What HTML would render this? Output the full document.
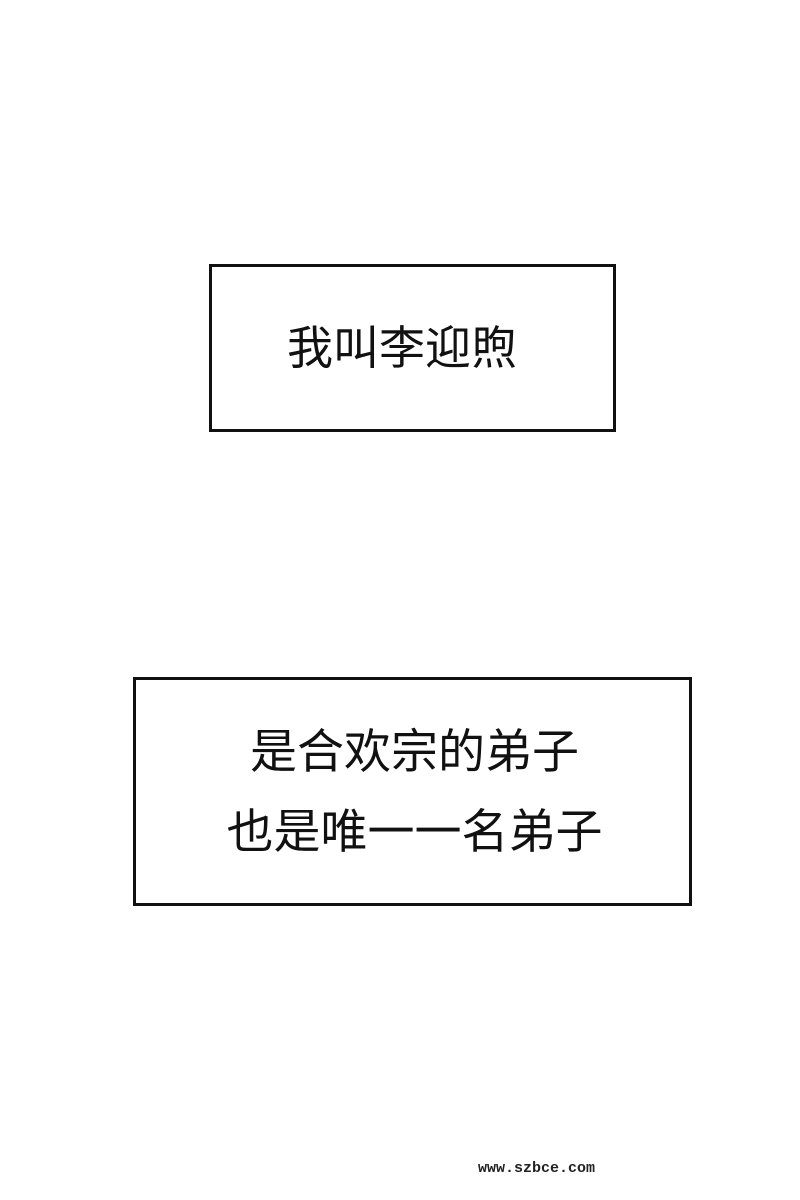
<!DOCTYPE html>
<html><head><meta charset="utf-8"><style>
body{margin:0;width:800px;height:1200px;background:#fff;position:relative;overflow:hidden;font-family:"Liberation Sans","Noto Sans CJK SC",sans-serif;color:#111}
.box{position:absolute;border:3px solid #111;box-sizing:border-box}
.t{position:absolute;text-align:center;line-height:1;white-space:nowrap}
</style></head><body>
<div class="box" style="left:209px;top:264px;width:407px;height:168px"></div>
<div class="t" style="left:187px;width:430px;top:325px;font-size:46px">我叫李迎煦</div>
<div class="box" style="left:133px;top:677px;width:559px;height:229px"></div>
<div class="t" style="left:135px;width:559px;top:728px;font-size:47px">是合欢宗的弟子</div>
<div class="t" style="left:135px;width:559px;top:808px;font-size:47px">也是唯一一名弟子</div>
<div style="position:absolute;left:478px;top:1160px;font-family:'Liberation Mono',monospace;font-size:15px;font-weight:bold;color:#222">www.szbce.com</div>
</body></html>
